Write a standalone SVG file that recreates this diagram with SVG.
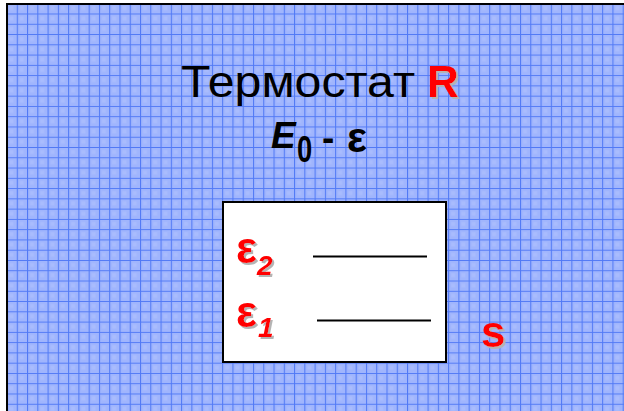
<svg xmlns="http://www.w3.org/2000/svg" width="624" height="411" viewBox="0 0 624 411">
  <defs>
    <pattern id="grid" patternUnits="userSpaceOnUse" x="6.5" y="3.25" width="10.27" height="10.27">
      <rect width="10.27" height="10.27" fill="#a0b5fd"/>
      <rect x="3" y="3" width="4" height="4" fill="#a9bcfd"/>
      <path d="M0.5 0 V10.27 M0 0.5 H10.27" stroke="#5179f5" stroke-width="1.1" fill="none"/>
    </pattern>
    <filter id="shadow" x="-20%" y="-20%" width="150%" height="150%">
      <feOffset in="SourceAlpha" dx="2" dy="2" result="off"/>
      <feFlood flood-color="#b4b4b4"/>
      <feComposite in2="off" operator="in" result="sh"/>
      <feMerge>
        <feMergeNode in="sh"/>
        <feMergeNode in="SourceGraphic"/>
      </feMerge>
    </filter>
    <style>
      text { font-family: "Liberation Sans", Arial, sans-serif; }
      .title { font-size: 44px; fill: #000; }
      .red { fill: #ff0000; font-weight: bold; filter: url(#shadow); }
      .level { stroke: #000; stroke-width: 2; }
      .bi { font-weight: bold; font-style: italic; }
    </style>
  </defs>

  <rect x="0" y="0" width="624" height="411" fill="#ffffff"/>
  <rect x="7" y="4" width="620" height="410" fill="url(#grid)" stroke="#000" stroke-width="2"/>

  <g id="title">
    <text class="title" x="181" y="97" textLength="234" lengthAdjust="spacingAndGlyphs">Термостат</text>
    <text class="red" x="427" y="97" font-size="44">R</text>
  </g>

  <g id="energy">
    <text class="bi" x="271" y="148" font-size="37">E</text>
    <text font-weight="bold" font-size="37" transform="translate(297,162) scale(0.74,1)">0</text>
    <text font-weight="bold" font-size="37" x="322" y="150">-</text>
    <text font-weight="bold" font-size="42" x="347" y="152">ε</text>
  </g>

  <g id="system-box">
    <rect x="223" y="202" width="223" height="160" fill="#ffffff" stroke="#000" stroke-width="2"/>
    <line class="level" x1="313" y1="256.5" x2="427" y2="256.5"/>
    <line class="level" x1="317" y1="320.5" x2="431" y2="320.5"/>
  </g>

  <g id="level-e2">
    <text class="red" x="236" y="262.5" font-size="44">ε<tspan class="bi" font-size="28" x="257" y="275">2</tspan></text>
  </g>

  <g id="level-e1">
    <text class="red" x="236" y="327" font-size="44">ε<tspan class="bi" font-size="28" x="258" y="336.5">1</tspan></text>
  </g>

  <g id="system-s">
    <text class="red" x="481" y="346.5" font-size="44">s</text>
  </g>

  <g id="connectors"/>
</svg>
